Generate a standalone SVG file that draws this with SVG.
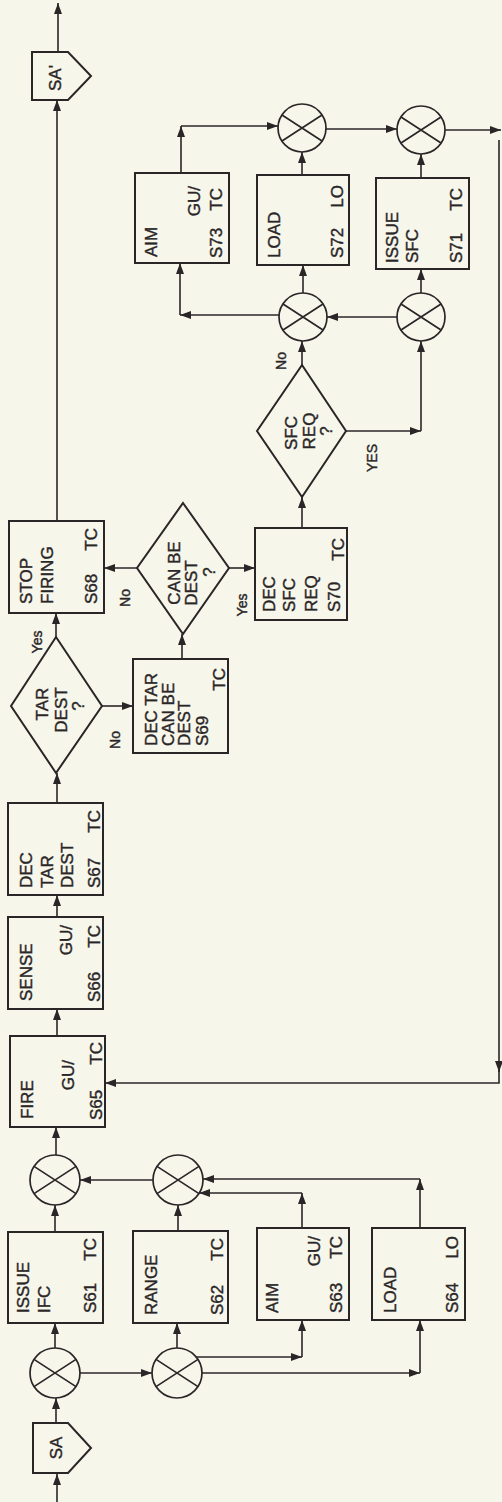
<svg xmlns="http://www.w3.org/2000/svg" width="502" height="1502" viewBox="0 0 502 1502">
<style>
.bg{fill:#f7f6ea}
.n{fill:none;stroke:#2a2628;stroke-width:2}
.c{fill:none;stroke:#2a2628;stroke-width:1.7}
.x{fill:none;stroke:#2a2628;stroke-width:1.7}
.l{fill:none;stroke:#2a2628;stroke-width:1.6}
text{font-family:"Liberation Sans",Arial,sans-serif;font-size:17px;fill:#2a2628;stroke:#2a2628;stroke-width:0.4}
.e{text-anchor:end}
.m{text-anchor:middle}
.s{font-size:14px}
</style>
<defs>
<marker id="ah" markerWidth="11" markerHeight="8" refX="11" refY="4" orient="auto" markerUnits="userSpaceOnUse"><path d="M0,0 L11,4 L0,8 z" fill="#2a2628"/></marker>
</defs>
<rect class="bg" x="0" y="0" width="502" height="1502"/>

<g id="connectors">
<path class="l" marker-end="url(#ah)" d="M57,1502 V1474"/>
<path class="l" marker-end="url(#ah)" d="M56,1423 V1398"/>
<path class="l" marker-end="url(#ah)" d="M80,1373 H152"/>
<path class="l" marker-end="url(#ah)" d="M55,1348 V1323"/>
<path class="l" marker-end="url(#ah)" d="M177,1348 V1323"/>
<path class="l" marker-end="url(#ah)" d="M196,1357 H302"/>
<path class="l" marker-end="url(#ah)" d="M302,1357 V1320"/>
<path class="l" marker-end="url(#ah)" d="M202,1373 H420"/>
<path class="l" marker-end="url(#ah)" d="M420,1373 V1320"/>
<path class="l" marker-end="url(#ah)" d="M55,1232 V1205"/>
<path class="l" marker-end="url(#ah)" d="M178,1231 V1205"/>
<path class="l" marker-end="url(#ah)" d="M302,1228 V1193"/>
<path class="l" marker-end="url(#ah)" d="M302,1193 H199"/>
<path class="l" marker-end="url(#ah)" d="M420,1228 V1179"/>
<path class="l" marker-end="url(#ah)" d="M420,1179 H203"/>
<path class="l" marker-end="url(#ah)" d="M153,1180 H80"/>
<path class="l" marker-end="url(#ah)" d="M56,1155 V1127"/>
<path class="l" marker-end="url(#ah)" d="M57,1036 V1009"/>
<path class="l" marker-end="url(#ah)" d="M57,917 V895"/>
<path class="l" marker-end="url(#ah)" d="M57,803 V773"/>
<path class="l" marker-end="url(#ah)" d="M56,637 V613"/>
<path class="l" marker-end="url(#ah)" d="M102,706 H133"/>
<path class="l" marker-end="url(#ah)" d="M182,659 V634"/>
<path class="l" marker-end="url(#ah)" d="M137,568 H104"/>
<path class="l" marker-end="url(#ah)" d="M229,568 H255"/>
<path class="l" marker-end="url(#ah)" d="M302,528 V497"/>
<path class="l" marker-end="url(#ah)" d="M302,365 V341"/>
<path class="l" marker-end="url(#ah)" d="M346,431 H421"/>
<path class="l" marker-end="url(#ah)" d="M421,431 V341"/>
<path class="l" marker-end="url(#ah)" d="M397,317 H327"/>
<path class="l" marker-end="url(#ah)" d="M279,315 H180"/>
<path class="l" marker-end="url(#ah)" d="M180,315 V263"/>
<path class="l" marker-end="url(#ah)" d="M303,293 V265"/>
<path class="l" marker-end="url(#ah)" d="M421,293 V269"/>
<path class="l" marker-end="url(#ah)" d="M181,173 V126"/>
<path class="l" marker-end="url(#ah)" d="M181,126 H278"/>
<path class="l" marker-end="url(#ah)" d="M302,175 V152"/>
<path class="l" marker-end="url(#ah)" d="M421,178 V154"/>
<path class="l" marker-end="url(#ah)" d="M326,129 H397"/>
<path class="l" marker-end="url(#ah)" d="M445,130 H501"/>
<path class="l" marker-end="url(#ah)" d="M499,140 V1072"/>
<path class="l" marker-end="url(#ah)" d="M499,1068 V1083 H105"/>
<path class="l" marker-end="url(#ah)" d="M57,521 V100"/>
<path class="l" marker-end="url(#ah)" d="M58,52 V3"/>
</g>

<g id="SA">
<polygon class="n" points="33,1423 68,1423 91,1448 68,1473 33,1473"/>
<text class="m" transform="translate(62,1448) rotate(-90)">SA</text>
</g>
<g id="SA2">
<polygon class="n" points="32,52 68,52 91,76 68,100 32,100"/>
<text class="m" transform="translate(61,78) rotate(-90)">SA'</text>
</g>

<g id="c1"><circle class="c" cx="55" cy="1373" r="25"/><path class="x" d="M34,1359.4 L76,1386.6 M34,1386.6 L76,1359.4"/></g>
<g id="c2"><circle class="c" cx="177" cy="1373" r="25"/><path class="x" d="M156,1359.4 L198,1386.6 M156,1386.6 L198,1359.4"/></g>
<g id="c3"><circle class="c" cx="178" cy="1180" r="25"/><path class="x" d="M157,1166.4 L199,1193.6 M157,1193.6 L199,1166.4"/></g>
<g id="c4"><circle class="c" cx="55" cy="1180" r="25"/><path class="x" d="M34,1166.4 L76,1193.6 M34,1193.6 L76,1166.4"/></g>
<g id="c5"><circle class="c" cx="303" cy="317" r="24"/><path class="x" d="M283,304 L323,330 M283,330 L323,304"/></g>
<g id="c6"><circle class="c" cx="421" cy="317" r="24"/><path class="x" d="M401,304 L441,330 M401,330 L441,304"/></g>
<g id="c7"><circle class="c" cx="302" cy="128" r="24"/><path class="x" d="M282,115 L322,141 M282,141 L322,115"/></g>
<g id="c8"><circle class="c" cx="421" cy="130" r="24"/><path class="x" d="M401,117 L441,143 M401,143 L441,117"/></g>

<g id="s61">
<rect class="n" x="8" y="1232" width="95" height="91"/>
<text transform="translate(29,1313) rotate(-90)">ISSUE</text>
<text transform="translate(50,1313) rotate(-90)">IFC</text>
<text transform="translate(96,1313) rotate(-90)">S61</text>
<text class="e" transform="translate(96,1238) rotate(-90)">TC</text>
</g>
<g id="s62">
<rect class="n" x="133" y="1231" width="95" height="92"/>
<text transform="translate(157,1315) rotate(-90)">RANGE</text>
<text transform="translate(223,1315) rotate(-90)">S62</text>
<text class="e" transform="translate(223,1238) rotate(-90)">TC</text>
</g>
<g id="s63">
<rect class="n" x="257" y="1228" width="92" height="92"/>
<text transform="translate(278,1313) rotate(-90)">AIM</text>
<text class="e" transform="translate(320,1236) rotate(-90)">GU/</text>
<text transform="translate(342,1313) rotate(-90)">S63</text>
<text class="e" transform="translate(342,1236) rotate(-90)">TC</text>
</g>
<g id="s64">
<rect class="n" x="372" y="1228" width="93" height="92"/>
<text transform="translate(396,1313) rotate(-90)">LOAD</text>
<text transform="translate(458,1313) rotate(-90)">S64</text>
<text class="e" transform="translate(458,1236) rotate(-90)">LO</text>
</g>
<g id="s65">
<rect class="n" x="10" y="1036" width="95" height="91"/>
<text transform="translate(33,1119) rotate(-90)">FIRE</text>
<text class="e" transform="translate(74,1060) rotate(-90)">GU/</text>
<text transform="translate(102,1120) rotate(-90)">S65</text>
<text class="e" transform="translate(102,1042) rotate(-90)">TC</text>
</g>
<g id="s66">
<rect class="n" x="8" y="917" width="95" height="92"/>
<text transform="translate(32,1001) rotate(-90)">SENSE</text>
<text class="e" transform="translate(72,925) rotate(-90)">GU/</text>
<text transform="translate(100,1002) rotate(-90)">S66</text>
<text class="e" transform="translate(100,925) rotate(-90)">TC</text>
</g>
<g id="s67">
<rect class="n" x="8" y="803" width="95" height="92"/>
<text transform="translate(32,888) rotate(-90)">DEC</text>
<text transform="translate(53,888) rotate(-90)">TAR</text>
<text transform="translate(73,888) rotate(-90)">DEST</text>
<text transform="translate(100,888) rotate(-90)">S67</text>
<text class="e" transform="translate(100,810) rotate(-90)">TC</text>
</g>
<g id="d_tardest">
<polygon class="n" points="56,637 102,706 56,773 11,706"/>
<text class="m" transform="translate(48,704) rotate(-90)">TAR</text>
<text class="m" transform="translate(67,710) rotate(-90)">DEST</text>
<text class="m" transform="translate(84,706) rotate(-90)">?</text>
</g>
<g id="s68">
<rect class="n" x="9" y="521" width="95" height="92"/>
<text transform="translate(32,604) rotate(-90)">STOP</text>
<text transform="translate(53,604) rotate(-90)">FIRING</text>
<text transform="translate(97,604) rotate(-90)">S68</text>
<text class="e" transform="translate(97,528) rotate(-90)">TC</text>
</g>
<g id="s69">
<rect class="n" x="133" y="659" width="95" height="94"/>
<text transform="translate(157,746) rotate(-90)">DEC TAR</text>
<text transform="translate(174,746) rotate(-90)">CAN BE</text>
<text transform="translate(190,746) rotate(-90)">DEST</text>
<text transform="translate(208,746) rotate(-90)">S69</text>
<text class="e" transform="translate(225,668) rotate(-90)">TC</text>
</g>
<g id="d_canbedest">
<polygon class="n" points="183,503 229,568 183,634 137,568"/>
<text class="m" transform="translate(180,573) rotate(-90)">CAN BE</text>
<text class="m" transform="translate(197,583) rotate(-90)">DEST</text>
<text class="m" transform="translate(215,572) rotate(-90)">?</text>
</g>
<g id="s70">
<rect class="n" x="255" y="528" width="92" height="92"/>
<text transform="translate(275,612) rotate(-90)">DEC</text>
<text transform="translate(295,612) rotate(-90)">SFC</text>
<text transform="translate(317,612) rotate(-90)">REQ</text>
<text transform="translate(340,612) rotate(-90)">S70</text>
<text class="e" transform="translate(344,538) rotate(-90)">TC</text>
</g>
<g id="d_sfcreq">
<polygon class="n" points="302,365 346,431 302,497 257,431"/>
<text class="m" transform="translate(297,433) rotate(-90)">SFC</text>
<text class="m" transform="translate(315,431) rotate(-90)">REQ</text>
<text class="m" transform="translate(332,431) rotate(-90)">?</text>
</g>
<g id="s73">
<rect class="n" x="135" y="173" width="94" height="90"/>
<text transform="translate(157,257) rotate(-90)">AIM</text>
<text class="e" transform="translate(200,186) rotate(-90)">GU/</text>
<text transform="translate(222,258) rotate(-90)">S73</text>
<text class="e" transform="translate(222,188) rotate(-90)">TC</text>
</g>
<g id="s72">
<rect class="n" x="257" y="175" width="92" height="90"/>
<text transform="translate(280,258) rotate(-90)">LOAD</text>
<text transform="translate(343,258) rotate(-90)">S72</text>
<text class="e" transform="translate(343,185) rotate(-90)">LO</text>
</g>
<g id="s71">
<rect class="n" x="376" y="178" width="93" height="91"/>
<text transform="translate(398,263) rotate(-90)">ISSUE</text>
<text transform="translate(418,263) rotate(-90)">SFC</text>
<text transform="translate(462,263) rotate(-90)">S71</text>
<text class="e" transform="translate(462,188) rotate(-90)">TC</text>
</g>

<g id="labels">
<text class="m s" transform="translate(42,642) rotate(-90)">Yes</text>
<text class="m s" transform="translate(120,740) rotate(-90)">No</text>
<text class="m s" transform="translate(130,598) rotate(-90)">No</text>
<text class="m s" transform="translate(247,605) rotate(-90)">Yes</text>
<text class="m s" transform="translate(286,361) rotate(-90)">No</text>
<text class="m s" transform="translate(377,458) rotate(-90)">YES</text>
</g>
</svg>
